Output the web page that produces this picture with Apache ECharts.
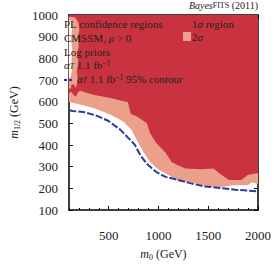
<!DOCTYPE html>
<html><head><meta charset="utf-8">
<script src="https://cdn.jsdelivr.net/npm/echarts@6/dist/echarts.min.js"></script>
<style>html,body{margin:0;padding:0;background:#fff}#c{width:274px;height:266px}</style>
</head><body><div id="c"></div>
<script>
// ---- data ----
const xRange = [100, 2000];
const yRange = [100, 1000];
const xLabelTicks = [500, 1000, 1500, 2000];
const xMinorTicks = [100,200,300,400,500,600,700,800,900,1000,1100,1200,1300,1400,1500,1600,1700,1800,1900,2000];
const yTicks = [100,200,300,400,500,600,700,800,900,1000];

// lower edge of the 1-sigma (red) region, filled up to top
const redLower = [[100,640],[125,645],[150,630],[172,624],[195,646],[217,650],[300,638],[369,630],[494,619],[618,605],[693,597],[721,543],[789,530],[883,500],[915,455],[976,410],[1070,365],[1132,321],[1195,306],[1272,291],[1428,288],[1552,291],[1615,269],[1709,239],[1833,239],[1895,261],[1973,269],[2000,270]];
// lower edge of the 2-sigma (salmon) region, filled up to top
const salmonLower = [[100,598],[245,584],[369,567],[525,539],[649,507],[696,485],[728,470],[805,404],[852,365],[915,321],[1008,283],[1101,261],[1210,231],[1319,229],[1459,212],[1615,204],[1739,214],[1895,214],[1942,228],[2000,220]];
// alpha_T 1.1 fb^-1 95% contour
const blueContour = [[105,560],[135,557],[245,552],[369,537],[494,512],[618,470],[696,433],[759,403],[821,351],[883,313],[976,276],[1070,253],[1195,239],[1319,224],[1459,209],[1615,202],[1770,194],[1990,186]];
// left-edge patches
const leftSalmonPatch = [[100,992],[160,990],[195,965],[205,930],[185,895],[200,860],[185,820],[195,780],[178,740],[190,700],[172,665],[100,660]];
const leftWhitePatch = [[100,975],[126,973],[131,933],[121,888],[134,843],[126,790],[130,745],[117,712],[100,712]];
const leftRedBlob = [[124,677],[150,680],[165,665],[160,645],[135,640],[122,655]];
const patches = [
  {pts: leftSalmonPatch, color: '#eba08c'},
  {pts: leftWhitePatch, color: '#ffffff'},
  {pts: leftRedBlob, color: '#c9323f'}
];

const FONT = 'Liberation Serif';
const RED = '#c9323f', SALMON = '#eba08c', BLUE = '#2b3aa0';
const LF = '11px "Liberation Serif"';

const chart = echarts.init(document.getElementById('c'), null, {renderer: 'svg'});
const axisLine = {show: true, lineStyle: {color: '#000', width: 1.5}};
const tickStyle = {color: '#000', width: 1};
const plain = v => String(v);
const it = {fontFamily: FONT, fontStyle: 'italic', fontSize: 11, fill: '#222'};
const sub = {fontFamily: FONT, fontStyle: 'italic', fontSize: 7.5, fill: '#222', verticalAlign: 'bottom'};
const sup = {fontFamily: FONT, fontSize: 7.5, fill: '#222', verticalAlign: 'top'};

chart.setOption({
  animation: false,
  backgroundColor: '#fff',
  grid: {left: 55, right: 16, top: 15, bottom: 50},
  xAxis: [
    {type: 'value', min: xRange[0], max: xRange[1], position: 'bottom',
     axisLine: axisLine, splitLine: {show: false},
     axisTick: {inside: true, length: 4, customValues: xLabelTicks, lineStyle: tickStyle},
     axisLabel: {customValues: xLabelTicks, formatter: plain, margin: 19, fontSize: 13, fontFamily: FONT, color: '#222'},
     name: '{i|m}{s|0} (GeV)', nameLocation: 'middle', nameGap: 37,
     nameTextStyle: {fontFamily: FONT, fontSize: 12, color: '#222',
       rich: {i: {fontStyle: 'italic', fontFamily: FONT, fontSize: 12, color: '#222'},
              s: {fontFamily: FONT, fontSize: 8, color: '#222', verticalAlign: 'bottom', padding: [6,0,0,0]}}}},
    {type: 'value', min: xRange[0], max: xRange[1], position: 'bottom',
     axisLine: {show: false}, splitLine: {show: false},
     axisTick: {inside: true, length: 2, customValues: xMinorTicks, lineStyle: tickStyle},
     axisLabel: {show: false}},
    {type: 'value', min: xRange[0], max: xRange[1], position: 'top',
     axisLine: axisLine, splitLine: {show: false},
     axisTick: {inside: true, length: 4, customValues: xLabelTicks, lineStyle: tickStyle},
     axisLabel: {show: false}},
    {type: 'value', min: xRange[0], max: xRange[1], position: 'top',
     axisLine: {show: false}, splitLine: {show: false},
     axisTick: {inside: true, length: 2, customValues: xMinorTicks, lineStyle: tickStyle},
     axisLabel: {show: false}}
  ],
  yAxis: [
    {type: 'value', min: yRange[0], max: yRange[1], interval: 100, position: 'left',
     axisLine: axisLine, splitLine: {show: false},
     axisTick: {inside: true, length: 4, lineStyle: tickStyle},
     axisLabel: {formatter: plain, margin: 11, fontSize: 13, fontFamily: FONT, color: '#222'},
     name: '{i|m}{s|1/2} (GeV)', nameLocation: 'middle', nameGap: 40, nameRotate: 90,
     nameTextStyle: {fontFamily: FONT, fontSize: 12, color: '#222',
       rich: {i: {fontStyle: 'italic', fontFamily: FONT, fontSize: 12, color: '#222'},
              s: {fontFamily: FONT, fontSize: 8, color: '#222', verticalAlign: 'bottom', padding: [6,0,0,0]}}}},
    {type: 'value', min: yRange[0], max: yRange[1], interval: 100, position: 'right',
     axisLine: axisLine, splitLine: {show: false},
     axisTick: {inside: true, length: 4, lineStyle: tickStyle},
     axisLabel: {show: false}}
  ],
  series: [
    {type: 'line', name: '2σ', data: salmonLower, symbol: 'none', silent: true, z: 1,
     lineStyle: {width: 0}, areaStyle: {color: SALMON, opacity: 1, origin: 'end'}},
    {type: 'line', name: '1σ region', data: redLower, symbol: 'none', silent: true, z: 2,
     lineStyle: {width: 0}, areaStyle: {color: RED, opacity: 1, origin: 'end'}},
    {type: 'custom', name: 'patches', z: 3, silent: true,
     data: patches.map((p, i) => [i]),
     renderItem: function (params, api) {
       const p = patches[api.value(0)];
       return {type: 'polygon', shape: {points: p.pts.map(pt => api.coord(pt))},
               style: {fill: p.color}};
     }},
    {type: 'line', name: 'α_T 1.1 fb-1 95% contour', data: blueContour, symbol: 'none', z: 4,
     lineStyle: {color: BLUE, width: 2, type: [7, 2]}}
  ],
  graphic: [
    {type: 'text', right: 16, top: 0, z: 100,
     style: {text: '{i|Bayes}{c|FITS}{n| (2011)}', fill: '#222',
       rich: {i: {fontFamily: FONT, fontStyle: 'italic', fontSize: 10, fill: '#222'},
              c: {fontFamily: FONT, fontSize: 8, fill: '#222'},
              n: {fontFamily: FONT, fontSize: 10, fill: '#222'}}}},
    {type: 'text', left: 64, top: 18.5, z: 100, style: {text: 'PL confidence regions', font: LF, fill: '#222'}},
    {type: 'text', left: 64, top: 32.5, z: 100, style: {text: 'CMSSM, {i|μ} > 0', font: LF, fill: '#222', rich: {i: it}}},
    {type: 'text', left: 64, top: 46.5, z: 100, style: {text: 'Log priors', font: LF, fill: '#222'}},
    {type: 'text', left: 64, top: 59.5, z: 100, style: {text: '{i|α}{s|T} 1.1 fb{p|−1}', font: LF, fill: '#222', rich: {i: it, s: sub, p: sup}}},
    {type: 'line', z: 100, shape: {x1: 64, y1: 80, x2: 74, y2: 80}, style: {stroke: '#2233cc', lineWidth: 2, lineDash: [3, 2]}},
    {type: 'text', left: 77, top: 73.5, z: 100, style: {text: '{i|α}{s|T} 1.1 fb{p|−1} 95% contour', font: LF, fill: '#222', rich: {i: it, s: sub, p: sup}}},
    {type: 'rect', z: 100, shape: {x: 183, y: 20, width: 8, height: 8}, style: {fill: RED}},
    {type: 'text', left: 192, top: 18.5, z: 100, style: {text: '1{i|σ} region', font: LF, fill: '#222', rich: {i: it}}},
    {type: 'rect', z: 100, shape: {x: 183, y: 32, width: 8, height: 9}, style: {fill: SALMON}},
    {type: 'text', left: 192, top: 31.5, z: 100, style: {text: '2{i|σ}', font: LF, fill: '#222', rich: {i: it}}}
  ]
});
</script></body></html>
